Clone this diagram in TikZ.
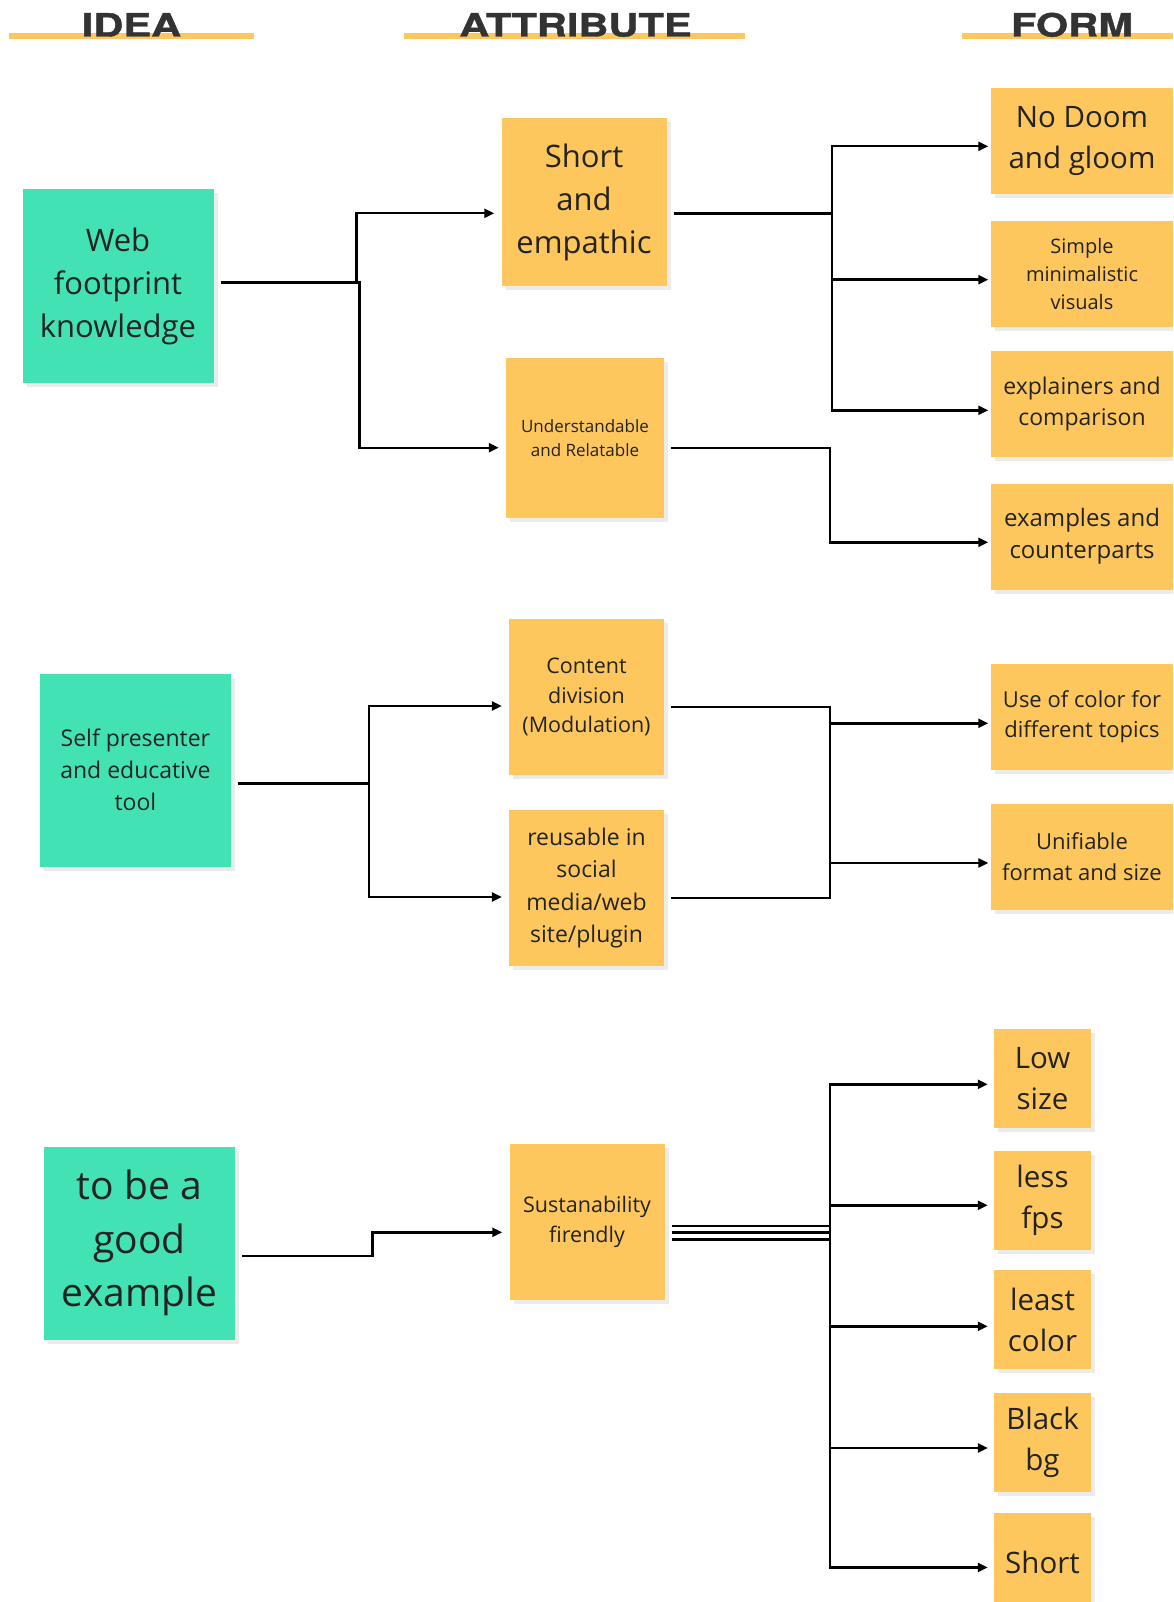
\documentclass[tikz,border=0pt]{standalone}
\usepackage{fontspec}
\setmainfont{Open Sans}
\newfontfamily\headfont{TeX Gyre Heros}[FakeStretch=1.3, FakeBold=1.2]
\usepackage{tikz}
\usetikzlibrary{arrows.meta, positioning, shadows}
\definecolor{ideagreen}{HTML}{43E2B4}
\definecolor{notey}{HTML}{FEC75D}
\definecolor{ink}{HTML}{232323}
\definecolor{headink}{HTML}{333333}
\tikzstyle{arrow} = [line width=2.4pt,-{Triangle[length=10pt,width=9pt]},shorten <=7pt,shorten >=7pt]
\tikzstyle{toform} = [arrow, shorten >=2.5pt]
\tikzstyle{tosmall} = [arrow, shorten >=6pt]
\tikzset{
	sticky/.style = {rectangle, inner sep=0pt, align=center, text=ink,
		drop shadow={shadow xshift=4pt, shadow yshift=-4pt, fill=black!8, opacity=1}},
	idea/.style = {sticky, fill=ideagreen, minimum width=191pt, minimum height=193pt},
	attribute/.style = {sticky, fill=notey, minimum width=155pt, minimum height=156pt},
	form/.style = {sticky, fill=notey, minimum width=182pt, minimum height=106pt},
	formsmall/.style = {sticky, fill=notey, minimum width=97pt, minimum height=99pt,
		font=\fontsize{29.5}{41}\selectfont},
	heading/.style = {anchor=base, text=headink, font=\headfont\bfseries\fontsize{32}{32}\selectfont}
}
\newcommand\fsz[2]{\fontsize{#1}{#2}\selectfont}

\begin{document}
\begin{tikzpicture}[x=1pt, y=-1pt]
\useasboundingbox (0,0) rectangle (1173,1602);
\clip (0,0) rectangle (1173,1602);
%----------------------------------------------------------------------------
% Column headings
\fill[notey] (9,33.5) rectangle (254,39.5);
\fill[notey] (404,33.5) rectangle (745,39.5);
\fill[notey] (962,33.5) rectangle (1173,39.5);
\node (headIdea) [heading] at (131.5,36.5) {IDEA};
\node (headAttr) [heading] at (575.5,36.5) {ATTRIBUTE};
\node (headForm) [heading] at (1072,36.5) {FORM};

%----------------------------------------------------------------------------
% Placement of idea nodes
\node (webKnowledge) [idea, font=\fsz{31}{43}] at (118,286) {Web\\footprint\\knowledge};
\node (selfPresenter) [idea, font=\fsz{23}{31.7}] at (135.4,770) {Self presenter\\and educative\\tool};
\node (goodExample) [idea, font=\fsz{39}{53.6}] at (139.5,1243) {to be a\\good\\example};

% Placement of attribute nodes
\node (shortEmpathic) [attribute, minimum width=165pt, minimum height=168pt, font=\fsz{31}{43}] at (584,202.5) {Short\\and\\empathic};
\node (understandable) [attribute, minimum width=158pt, minimum height=160pt, font=\fsz{17}{24.5}] at (585,438) {Understandable\\and Relatable};
\node (contentDivision) [attribute, font=\fsz{21.5}{29.6}] at (586.5,697) {Content\\division\\(Modulation)};
\node (reusable) [attribute, font=\fsz{23}{32.4}] at (586.5,888) {reusable in\\social\\media/web\\site/plugin};
\node (sustainable) [attribute, font=\fsz{21.5}{29.6}] at (587,1222) {Sustanability\\firendly};

% Placement of form nodes
\node (noDoom) [form, font=\fsz{29.5}{41}] at (1082,141) {No Doom\\and gloom};
\node (simpleVisuals) [form, font=\fsz{20}{27.6}] at (1082,274) {Simple\\minimalistic\\visuals};
\node (explainers) [form, font=\fsz{23}{30.7}] at (1082,404) {explainers and\\comparison};
\node (examples) [form, font=\fsz{24}{32.5}] at (1082,536.5) {examples and\\counterparts};
\node (colorTopics) [form, font=\fsz{22}{29.6}] at (1082,716.5) {Use of color for\\different topics};
\node (unifiable) [form, font=\fsz{22}{31}] at (1082,856.5) {Unifiable\\format and size};
\node (lowSize) [formsmall] at (1042.5,1078.5) {Low\\size};
\node (lessFps) [formsmall] at (1042.5,1200) {less\\fps};
\node (leastColor) [formsmall] at (1042.5,1319.5) {least\\color};
\node (blackBg) [formsmall] at (1042.5,1442) {Black\\bg};
\node (shortForm) [formsmall] at (1042.5,1562) {Short};

%----------------------------------------------------------------------------
% Lines idea -> attribute
\draw [arrow] ([yshift=3.5pt]webKnowledge.east) -- ++(142.7,0) |- ([yshift=-10.8pt]shortEmpathic.west);
\draw [arrow] ([yshift=3.5pt]webKnowledge.east) -- ++(145.7,0) |- ([yshift=-9.7pt]understandable.west);

\draw [arrow] ([yshift=-13.5pt]selfPresenter.east) -- ++(138,0) |- ([yshift=-9pt]contentDivision.west);
\draw [arrow] ([yshift=-13.5pt]selfPresenter.east) -- ++(138,0) |- ([yshift=-9pt]reusable.west);

\draw [arrow] ([yshift=-13pt]goodExample.east) -- ++(137.3,0) |- ([yshift=-10.3pt]sustainable.west);

% Lines attribute -> form
\draw [toform] ([yshift=-11.2pt]shortEmpathic.east) -- ++(165,0) |- ([yshift=-5.3pt]noDoom.west);
\draw [toform] ([yshift=-11.2pt]shortEmpathic.east) -- ++(165,0) |- ([yshift=-5.7pt]simpleVisuals.west);
\draw [toform] ([yshift=-11.2pt]shortEmpathic.east) -- ++(165,0) |- ([yshift=-6.3pt]explainers.west);
\draw [toform] ([yshift=-9.7pt]understandable.east) -- ++(165.7,0) |- ([yshift=-5.8pt]examples.west);

\draw [toform] ([yshift=-10pt]contentDivision.east) -- ++(165.7,0) |- ([yshift=-6.5pt]unifiable.west);
\draw [toform] ([yshift=-10pt]reusable.east) -- ++(165.7,0) |- ([yshift=-6.8pt]colorTopics.west);

\draw [tosmall] ([yshift=-3.7pt]sustainable.east) -- ++(165.3,0) |- ([yshift=-5.8pt]lowSize.west);
\draw [tosmall] ([yshift=-10.3pt]sustainable.east) -- ++(165.3,0) |- ([yshift=-5.3pt]lessFps.west);
\draw [tosmall] ([yshift=-10.3pt]sustainable.east) -- ++(165.3,0) |- ([yshift=-6.8pt]leastColor.west);
\draw [tosmall] ([yshift=-17.3pt]sustainable.east) -- ++(165.3,0) |- ([yshift=-6pt]blackBg.west);
\draw [tosmall] ([yshift=-17.3pt]sustainable.east) -- ++(165.3,0) |- ([yshift=-5.4pt]shortForm.west);

\end{tikzpicture}
\end{document}
